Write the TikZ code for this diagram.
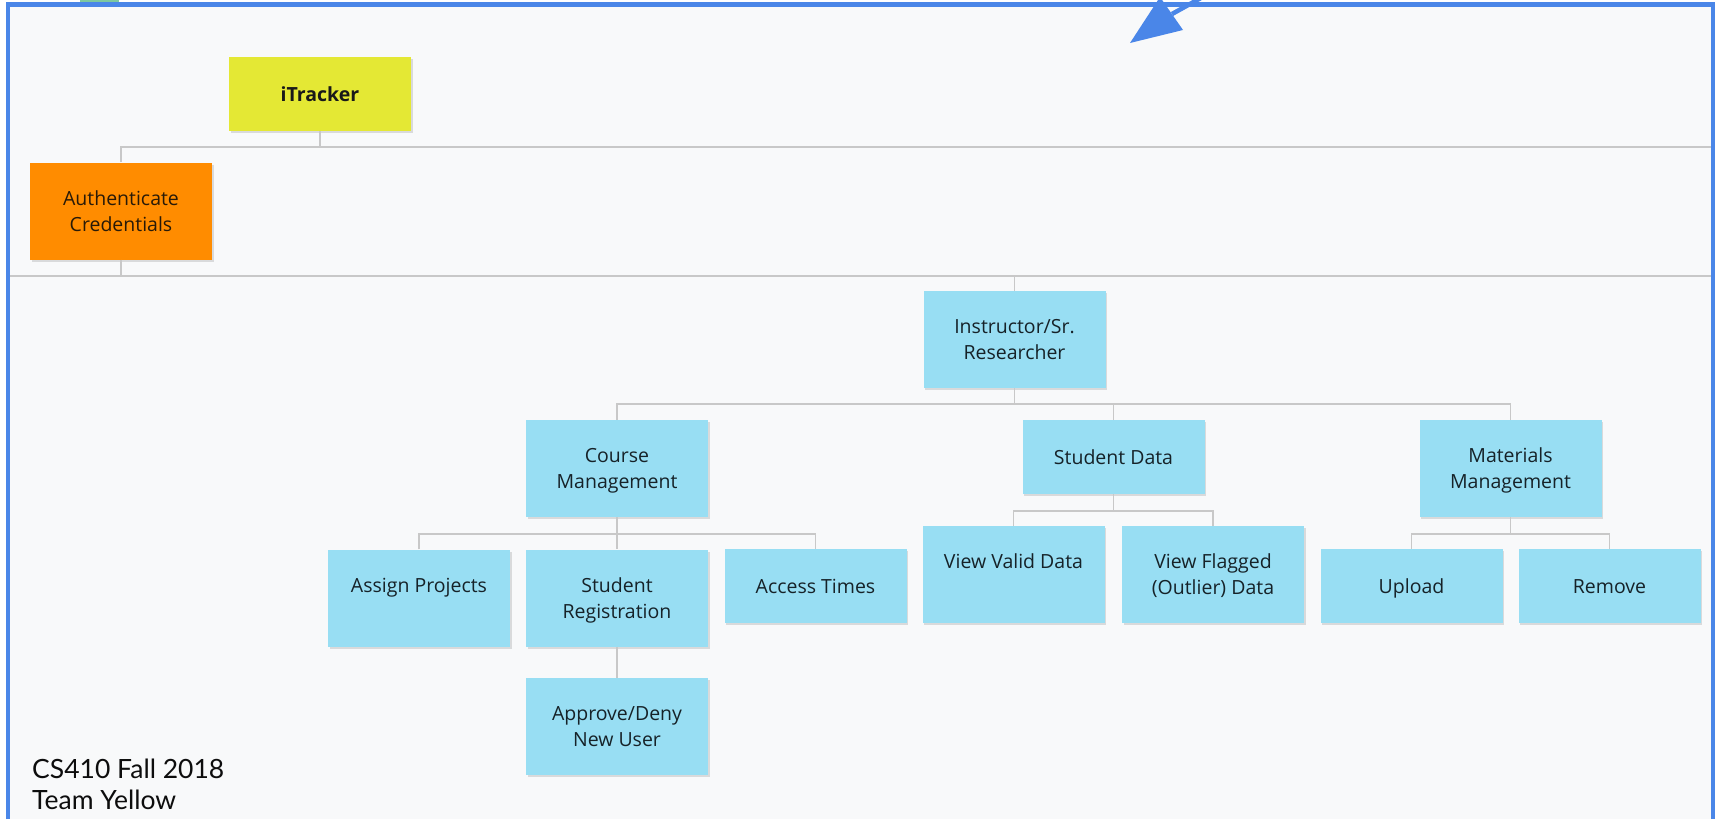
\documentclass[tikz,border=0pt]{standalone}
\usepackage{fontspec}
\setmainfont{Open Sans}
\newfontfamily\latofont{Lato}
\usetikzlibrary{shadows}

\definecolor{boxblue}{RGB}{152,222,243}
\definecolor{boxyellow}{RGB}{228,232,52}
\definecolor{boxorange}{RGB}{255,140,0}
\definecolor{boxtext}{RGB}{22,34,40}
\definecolor{linegray}{RGB}{200,200,200}
\definecolor{frameblue}{RGB}{74,134,232}
\definecolor{panel}{RGB}{248,249,250}
\definecolor{tabgreen}{RGB}{125,200,160}

% uniform strut so every text line takes the same 26pt slot
\newcommand\tstr{\rule[-6pt]{0pt}{26pt}}

\begin{document}
\begin{tikzpicture}[x=1pt,y=-1pt,
  card/.style={fill=boxblue, minimum width=182pt, inner sep=0pt, align=center,
    text=boxtext, font=\fontsize{19.5}{26}\selectfont,
    drop shadow={shadow xshift=1.5pt, shadow yshift=-2pt, opacity=0.12, fill=black}},
  tall/.style={minimum height=97pt},
  short/.style={minimum height=74pt},
  link/.style={draw=linegray, line width=1.8pt},
  footer/.style={anchor=base west, inner sep=0pt, font=\latofont\fontsize{26.5}{31}\selectfont, text=black!95}]

\useasboundingbox (0,0) rectangle (1715,819);
\fill[white] (0,0) rectangle (1715,819);
\fill[panel] (8,4.5) rectangle (1713.5,819);

% ---- boxes ----
\node[card, short, fill=boxyellow, text=black!90, font=\bfseries\fontsize{19.5}{26}\selectfont] (itr) at (320,94) {iTracker};
\node[card, tall, fill=boxorange, text={rgb,255:red,40;green,26;blue,8}] (auth) at (121,211) {Authenticate\tstr\\Credentials\tstr};

\node[card, tall] (instr) at (1014.5,339.5) {Instructor/Sr.\tstr\\Researcher\tstr};

\node[card, tall]  (course) at (617,468.5)   {Course\tstr\\Management\tstr};
\node[card, short] (sdata)  at (1113.5,457)  {Student Data\tstr};
\node[card, tall]  (mat)    at (1510.5,468.5){Materials\tstr\\Management\tstr};

\node[card, tall]  (assign)  at (419,598)   {Assign Projects\tstr\\\tstr};
\node[card, tall]  (studreg) at (617,598)   {Student\tstr\\Registration\tstr};
\node[card, short] (access)  at (815.5,586) {Access Times\tstr};
\node[card, tall]  (approve) at (617,726.5) {Approve/Deny\tstr\\New User\tstr};

\node[card, tall] (valid) at (1013.5,574.5) {View Valid Data\tstr\\\tstr};
\node[card, tall] (flag)  at (1213,574.5)   {View Flagged\tstr\\(Outlier) Data\tstr};

\node[card, short] (upload) at (1411.5,586) {Upload\tstr};
\node[card, short] (remove) at (1609.5,586) {Remove\tstr};

% ---- bus lines ----
\coordinate (r1) at (1712,147);
\coordinate (l2) at (10,276);
\coordinate (r2) at (1712,276);
\coordinate (b3) at (0,404);
\coordinate (b4) at (0,534);
\coordinate (b5) at (0,511);

\draw[link] (auth.north) |- (r1);
\draw[link] (itr.south) -- (itr.south |- r1);
\draw[link] (l2) -- (r2);
\draw[link] (auth.south) -- (auth.south |- l2);
\draw[link] (instr.north) -- (instr.north |- l2);

\draw[link] (course.north) |- (mat.north |- b3) -- (mat.north);
\draw[link] (instr.south) -- (instr.south |- b3);
\draw[link] (sdata.north) -- (sdata.north |- b3);

\draw[link] (assign.north) |- (access.north |- b4) -- (access.north);
\draw[link] (course.south) -- (studreg.north);
\draw[link] (studreg.south) -- (approve.north);

\draw[link] (valid.north) |- (flag.north |- b5) -- (flag.north);
\draw[link] (sdata.south) -- (sdata.south |- b5);

\draw[link] (upload.north) |- (remove.north |- b4) -- (remove.north);
\draw[link] (mat.south) -- (mat.south |- b4);

% ---- footer ----
\node[footer] (course410) at (32,778) {CS410 Fall 2018};
\node[footer] (team) at (32,809) {Team Yellow};

% ---- frame, tab and pointer ----
\fill[tabgreen] (80,0) rectangle (119,3);
\draw[frameblue, line width=4.5pt] (8,819) -- (8,4.5) -- (1713.5,4.5) -- (1713.5,819);

\coordinate (ptip) at (1130,43);
\coordinate (pa) at (1160,-3);
\coordinate (pb) at (1183,30);
\coordinate (pbase) at (1172,14);
\coordinate (ptail) at (1208,-6);
\draw[frameblue, line width=4.5pt] (pbase) -- (ptail);
\fill[frameblue] (ptip) -- (pa) -- (pb) -- cycle;
\end{tikzpicture}
\end{document}
